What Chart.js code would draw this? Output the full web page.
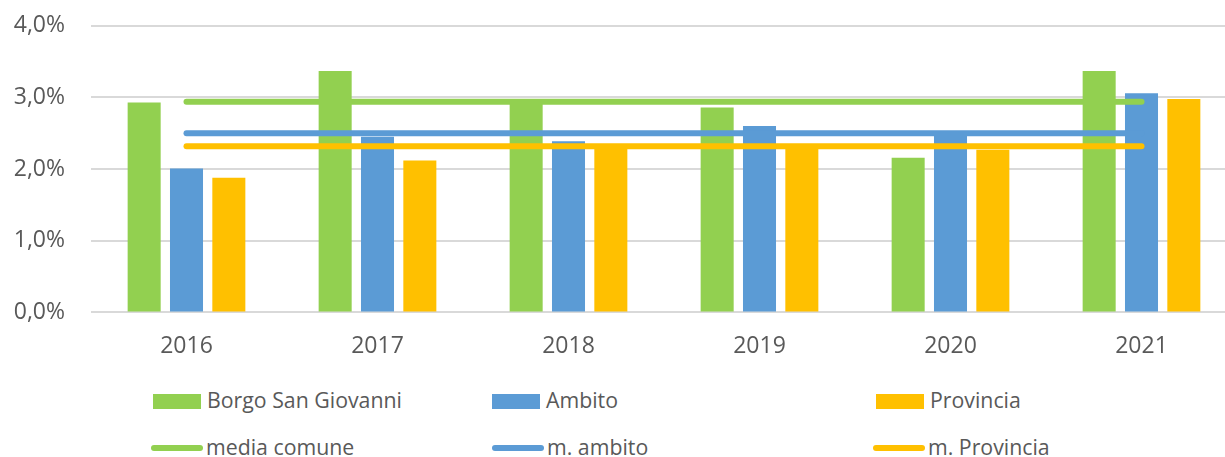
<!DOCTYPE html>
<html>
<head>
<meta charset="utf-8">
<script src="https://cdn.jsdelivr.net/npm/chart.js@4"></script>
<style>
  html, body { margin: 0; padding: 0; background: #fff; overflow: hidden; }
  #wrap { position: absolute; left: 0; top: -14px; width: 1240px; height: 386px; }
  .leg { position: absolute; font-family: "Open Sans", sans-serif; font-size: 21.3px; color: #595959; white-space: nowrap; }
  .sw { position: absolute; }
</style>
</head>
<body>
<div id="wrap"><canvas id="chart"></canvas></div>
<div id="legend"></div>
<script>
const years = ['2016', '2017', '2018', '2019', '2020', '2021']
const borgo = [2.93, 3.37, 2.97, 2.86, 2.16, 3.37]
const ambito = [2.01, 2.45, 2.39, 2.60, 2.52, 3.06]
const provincia = [1.88, 2.12, 2.34, 2.34, 2.27, 2.98]
const mediaComune = [2.94, 2.94, 2.94, 2.94, 2.94, 2.94]
const mAmbito = [2.50, 2.50, 2.50, 2.50, 2.50, 2.50]
const mProvincia = [2.32, 2.32, 2.32, 2.32, 2.32, 2.32]
const yTicks = [0, 1, 2, 3, 4]

const green = '#92d050'
const blue = '#5b9bd5'
const yellow = '#ffc000'
const textColor = '#595959'

const barSet = (label, data, color) => ({
  type: 'bar', label, data, backgroundColor: color, order: 2,
  categoryPercentage: 0.665, barPercentage: 0.78
})
const lineSet = (label, data, color) => ({
  type: 'line', label, data, borderColor: color, backgroundColor: color,
  borderWidth: 6, borderCapStyle: 'round', pointRadius: 0, order: 1
})

const ctx = document.getElementById('chart').getContext('2d')
new Chart(ctx, {
  data: {
    labels: years,
    datasets: [
      barSet('Borgo San Giovanni', borgo, green),
      barSet('Ambito', ambito, blue),
      barSet('Provincia', provincia, yellow),
      lineSet('media comune', mediaComune, green),
      lineSet('m. ambito', mAmbito, blue),
      lineSet('m. Provincia', mProvincia, yellow),
    ],
  },
  options: {
    responsive: true,
    maintainAspectRatio: false,
    animation: false,
    layout: { padding: { left: 13, top: 0, right: 3, bottom: 0 } },
    plugins: { legend: { display: false }, tooltip: { enabled: false } },
    scales: {
      x: {
        grid: { display: false },
        border: { display: false },
        ticks: { color: textColor, font: { family: 'Open Sans', size: 23 }, padding: 12 },
      },
      y: {
        min: 0, max: 4,
        afterBuildTicks: (axis) => { axis.ticks = yTicks.map(v => ({ value: v })) },
        afterFit: (axis) => { axis.width = 78 },
        grid: { color: '#d9d9d9', lineWidth: 2, drawTicks: false },
        border: { display: false },
        ticks: {
          color: textColor, font: { family: 'Open Sans', size: 23 }, padding: 26,
          callback: (v) => v.toFixed(1).replace('.', ',') + '%'
        },
      },
    },
  },
})

// legend, two rows of three, like the original
const legendItems = [
  { label: 'Borgo San Giovanni', color: green, kind: 'bar', x: 153, y: 394 },
  { label: 'Ambito', color: blue, kind: 'bar', x: 492, y: 394 },
  { label: 'Provincia', color: yellow, kind: 'bar', x: 876, y: 394 },
  { label: 'media comune', color: green, kind: 'line', x: 151, y: 441 },
  { label: 'm. ambito', color: blue, kind: 'line', x: 492, y: 441 },
  { label: 'm. Provincia', color: yellow, kind: 'line', x: 873, y: 441 },
]
const legend = document.getElementById('legend')
legendItems.forEach(it => {
  const sw = document.createElement('div')
  sw.className = 'sw'
  if (it.kind === 'bar') {
    Object.assign(sw.style, { left: it.x + 'px', top: it.y + 'px', width: '48px', height: '15px', background: it.color })
  } else {
    Object.assign(sw.style, { left: it.x + 'px', top: (it.y + 4) + 'px', width: '52px', height: '6px', background: it.color, borderRadius: '3px' })
  }
  legend.appendChild(sw)
  const t = document.createElement('div')
  t.className = 'leg'
  t.textContent = it.label
  Object.assign(t.style, { left: (it.x + (it.kind === 'bar' ? 54 : 55)) + 'px', top: (it.y - 9) + 'px' })
  legend.appendChild(t)
})
</script>
</body>
</html>
